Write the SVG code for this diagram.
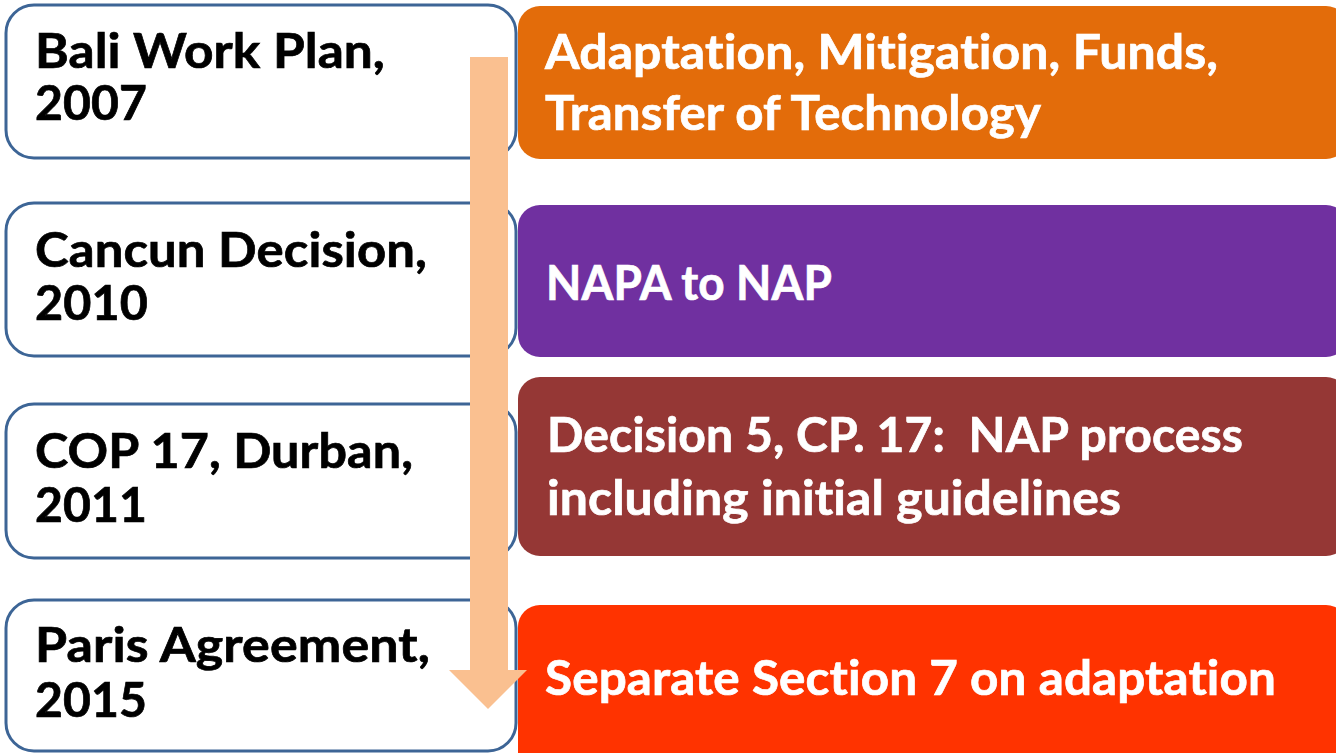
<svg xmlns="http://www.w3.org/2000/svg" width="1336" height="753" viewBox="0 0 1336 753">
<style>
.lbox{fill:#ffffff;stroke:#3D6596;stroke-width:3}
.lt{font-family:Lato,"Carlito","Open Sans",sans-serif;font-weight:bold;font-size:48px;fill:#000000;stroke:#000000;stroke-width:0.7;font-variant-ligatures:none;font-feature-settings:"liga" 0,"clig" 0,"dlig" 0;letter-spacing:0.1px}
.rt{font-family:Lato,"Carlito","Open Sans",sans-serif;font-weight:bold;font-size:48px;fill:#ffffff;stroke:#ffffff;stroke-width:0.7;font-variant-ligatures:none;font-feature-settings:"liga" 0,"clig" 0,"dlig" 0;letter-spacing:0.1px}
</style>
<rect width="1336" height="753" fill="#ffffff"/>
<g id="node-bali">
<rect class="lbox" x="6" y="5" width="510" height="153" rx="28"/>
<text class="lt" x="35" y="68" textLength="350" lengthAdjust="spacingAndGlyphs">Bali Work Plan,</text>
<text class="lt" x="35" y="120" textLength="112" lengthAdjust="spacingAndGlyphs">2007</text>
</g>
<g id="node-cancun">
<rect class="lbox" x="6" y="203" width="510" height="153" rx="28"/>
<text class="lt" x="35" y="267" textLength="392" lengthAdjust="spacingAndGlyphs">Cancun Decision,</text>
<text class="lt" x="35" y="320" textLength="113" lengthAdjust="spacingAndGlyphs">2010</text>
</g>
<g id="node-cop17">
<rect class="lbox" x="6" y="404" width="510" height="154" rx="28"/>
<text class="lt" x="35" y="468" textLength="378" lengthAdjust="spacingAndGlyphs">COP 17, Durban,</text>
<text class="lt" x="35" y="522" textLength="112" lengthAdjust="spacingAndGlyphs">2011</text>
</g>
<g id="node-paris">
<rect class="lbox" x="6" y="600" width="510" height="151" rx="28"/>
<text class="lt" x="35" y="662" textLength="395" lengthAdjust="spacingAndGlyphs">Paris Agreement,</text>
<text class="lt" x="35" y="717" textLength="112" lengthAdjust="spacingAndGlyphs">2015</text>
</g>
<g id="node-adaptation">
<rect x="518" y="6" width="830" height="153" rx="22" fill="#E36C0A"/>
<text class="rt" x="545" y="69" textLength="673" lengthAdjust="spacingAndGlyphs">Adaptation, Mitigation, Funds,</text>
<text class="rt" x="545" y="130" textLength="496" lengthAdjust="spacingAndGlyphs">Transfer of Technology</text>
</g>
<g id="node-napa">
<rect x="518" y="205" width="830" height="152" rx="22" fill="#7030A0"/>
<text class="rt" x="546" y="300" textLength="286" lengthAdjust="spacingAndGlyphs">NAPA to NAP</text>
</g>
<g id="node-decision5">
<rect x="518" y="377" width="830" height="179" rx="22" fill="#953735"/>
<text class="rt" x="547" y="452" textLength="696" lengthAdjust="spacingAndGlyphs" xml:space="preserve">Decision 5, CP. 17:  NAP process</text>
<text class="rt" x="547" y="515" textLength="574" lengthAdjust="spacingAndGlyphs">including initial guidelines</text>
</g>
<g id="node-paris-section">
<rect x="518" y="605" width="830" height="170" rx="22" fill="#FF3300"/>
<text class="rt" x="545" y="695" textLength="731" lengthAdjust="spacingAndGlyphs">Separate Section 7 on adaptation</text>
</g>
<g id="connectors">
<polygon points="470,57 508,57 508,670 527,670 488,709 449,670 470,670" fill="#FAC090"/>
</g>
</svg>
